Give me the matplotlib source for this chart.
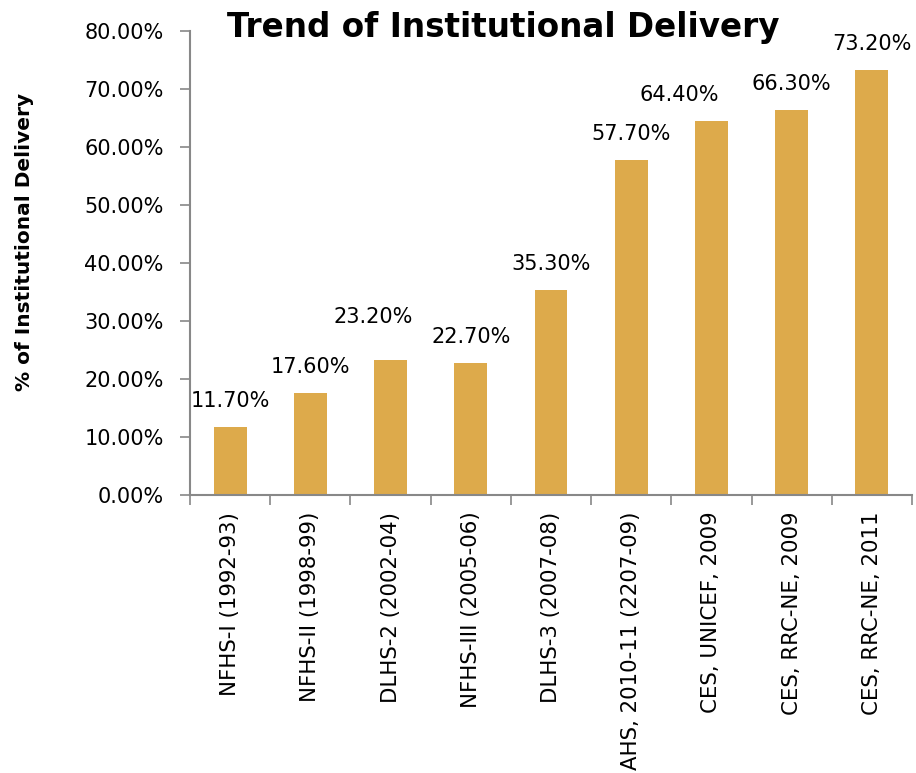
import matplotlib
matplotlib.use("Agg")
import matplotlib.pyplot as plt
from matplotlib.ticker import FixedLocator, FuncFormatter

categories = ["NFHS-I (1992-93)", "NFHS-II (1998-99)", "DLHS-2 (2002-04)",
              "NFHS-III (2005-06)", "DLHS-3 (2007-08)", "AHS, 2010-11 (2207-09)",
              "CES, UNICEF, 2009", "CES, RRC-NE, 2009", "CES, RRC-NE, 2011"]
values = [11.7, 17.6, 23.2, 22.7, 35.3, 57.7, 64.4, 66.3, 73.2]
y_ticks = [0, 10, 20, 30, 40, 50, 60, 70, 80]

# label offsets in points (dx, dy) relative to top-centre of bars
label_offsets = [(0, 19), (0, 19), (-12.5, 31), (0, 19), (0, 19), (0, 19), (-23, 19), (0, 19), (0, 19)]

bar_color = "#DDAA4B"
axis_color = "#888888"
fs = 15

L, R, T, B = 190, 912, 31, 495
fig = plt.figure(figsize=(9.16, 7.73), dpi=100)
ax = fig.add_axes([L/916, 1-B/773, (R-L)/916, (B-T)/773])

x = list(range(len(categories)))
ax.bar(x, values, width=0.41, color=bar_color, zorder=2)
ax.set_xlim(-0.5, len(categories) - 0.5)
ax.set_ylim(0, 80)

ax.yaxis.set_major_locator(FixedLocator(y_ticks))
ax.yaxis.set_major_formatter(FuncFormatter(lambda v, p: f"{v:.2f}%"))

ax.set_xticks(x)
ax.set_xticklabels(categories, rotation=90, fontsize=15.3)
ax.tick_params(axis="x", which="major", length=0, pad=12)
ax.set_xticks([i - 0.5 for i in range(len(categories) + 1)], minor=True)
ax.tick_params(axis="x", which="minor", length=7, color=axis_color, width=1.2, direction="out")
ax.tick_params(axis="y", length=7, color=axis_color, width=1.2, direction="out", labelsize=fs, pad=12)

for s in ["top", "right"]:
    ax.spines[s].set_visible(False)
for s in ["left", "bottom"]:
    ax.spines[s].set_color(axis_color)
    ax.spines[s].set_linewidth(1.5)

for xi, v, (dx, dy) in zip(x, values, label_offsets):
    ax.annotate(f"{v:.2f}%", (xi, v), xytext=(dx, dy), textcoords="offset points",
                ha="center", va="center", fontsize=fs)

ax.set_ylabel("% of Institutional Delivery", fontsize=14.5, fontweight="bold", labelpad=0)
ax.yaxis.set_label_coords((25 - L)/(R - L), (B - 242)/(B - T), transform=ax.transAxes)
ax.yaxis.label.set_verticalalignment("center")

fig.text(503/916, 1-28/773, "Trend of Institutional Delivery", fontsize=23.5, fontweight="bold",
         ha="center", va="center")

fig.savefig("out.png", dpi=100)
